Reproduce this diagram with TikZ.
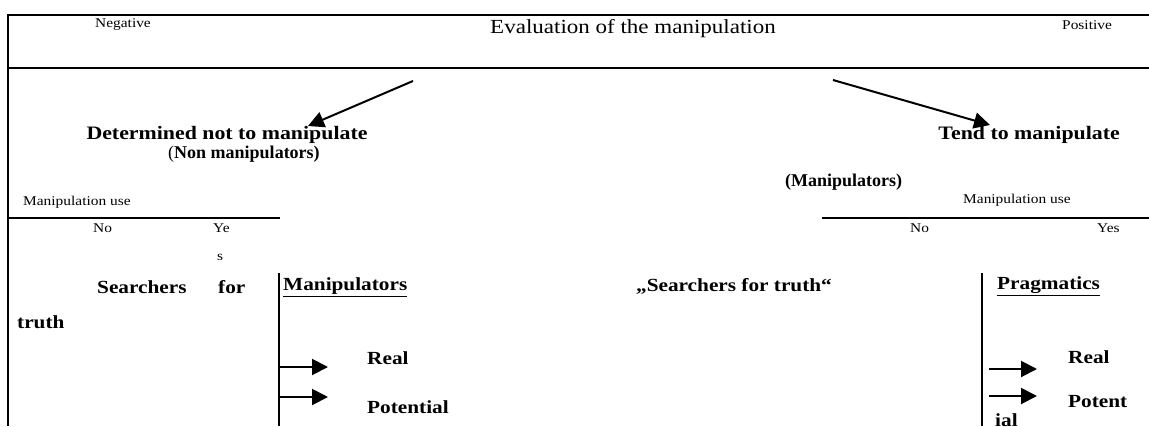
\documentclass[tikz,border=0pt]{standalone}
\usepackage{fontspec}
\setmainfont{Liberation Serif}
\newfontfamily\gara[FakeStretch=1.15]{Liberation Serif}
\usetikzlibrary{arrows.meta}

\tikzset{
  every node/.style={inner sep=0pt},
  tiny/.style={font=\gara\fontsize{13.4}{15}\selectfont},
  title/.style={font=\gara\fontsize{20}{24}\selectfont},
  head/.style={font=\gara\bfseries\fontsize{19}{22}\selectfont},
  sub/.style={font=\bfseries\fontsize{18}{22}\selectfont},
  cell/.style={font=\gara\bfseries\fontsize{18.5}{22}\selectfont},
  frame/.style={line width=2.5pt},
  divider/.style={line width=2pt},
  fat/.style={-{Triangle[length=16pt,width=16pt]}, line width=2pt},
}

\begin{document}
\begin{tikzpicture}[x=1pt,y=-1pt]
  \useasboundingbox (0,0) rectangle (1149,426);

  % Top band
  \draw[frame] (1149,15) -- (8,15) -- (8,426);
  \draw[frame] (8,68) -- (1149,68);
  \node[tiny, anchor=west] (neg) at (95,25) {Negative};
  \node[tiny, anchor=west] (pos) at (1062,25) {Positive};
  \node[title] (eval) at (633,29) {Evaluation of the manipulation};

  % Two groups
  \coordinate (startL) at (413,81);
  \coordinate (tipL) at (308,126);
  \coordinate (startR) at (833,80);
  \coordinate (tipR) at (990,125);
  \draw[fat] (startL) -- (tipL);
  \draw[fat] (startR) -- (tipR);

  \node[head] (nonmanip) at (227,135) {Determined not to manipulate};
  \node[sub] (nonlab) at (244,154) {\mdseries(\bfseries Non manipulators)};
  \node[head, anchor=east] (manip) at (1120,135) {Tend to manipulate};
  \node[sub, anchor=west] (maniplab) at (785,182) {(Manipulators)};

  % Manipulation use axes
  \node[tiny, anchor=west] (useL) at (23,202) {Manipulation use};
  \node[tiny, anchor=west] (useR) at (963,200) {Manipulation use};
  \coordinate (axL0) at (8,218);
  \coordinate (axL1) at (280,218);
  \coordinate (axR0) at (822,218);
  \coordinate (axR1) at (1149,218);
  \draw[frame] (axL0) -- (axL1);
  \draw[frame] (axR0) -- (axR1);
  \node[tiny, anchor=west] (noL) at (93,228) {No};
  \node[tiny, anchor=west] (yeL) at (213,228) {Ye};
  \node[tiny, anchor=west] (sL) at (217,257) {s};
  \node[tiny, anchor=west] (noR) at (910,228) {No};
  \node[tiny, anchor=west] (yesR) at (1097,228) {Yes};

  % Cells
  \coordinate (divL0) at (279,273);
  \coordinate (divL1) at (279,426);
  \coordinate (divR0) at (982,273);
  \coordinate (divR1) at (982,426);
  \draw[divider] (divL0) -- (divL1);
  \draw[divider] (divR0) -- (divR1);

  \node[cell, anchor=west] (search) at (97,287) {Searchers};
  \node[cell, anchor=west] (for) at (218,287) {for};
  \node[cell, anchor=west] (truth) at (17,322) {truth};
  \node[cell, anchor=west] (manipc) at (283,287) {\underline{Manipulators}};
  \node[cell] (quote) at (734,286) {„Searchers for truth“};
  \node[cell, anchor=west] (prag) at (997,286) {\underline{Pragmatics}};

  \node[cell, anchor=west] (realL) at (367,358) {Real};
  \node[cell, anchor=west] (potL) at (367,407) {Potential};
  \node[cell, anchor=west] (realR) at (1068,357) {Real};
  \node[cell, anchor=west] (potR) at (1068,402) {Potent};
  \node[cell, anchor=west] (ialR) at (995,420) {ial};

  \coordinate (r1a) at (280,367);
  \coordinate (r1b) at (328,367);
  \coordinate (r2a) at (280,397);
  \coordinate (r2b) at (328,397);
  \coordinate (r3a) at (989,369);
  \coordinate (r3b) at (1037,369);
  \coordinate (r4a) at (989,396);
  \coordinate (r4b) at (1037,396);
  \draw[fat] (r1a) -- (r1b);
  \draw[fat] (r2a) -- (r2b);
  \draw[fat] (r3a) -- (r3b);
  \draw[fat] (r4a) -- (r4b);
\end{tikzpicture}
\end{document}
